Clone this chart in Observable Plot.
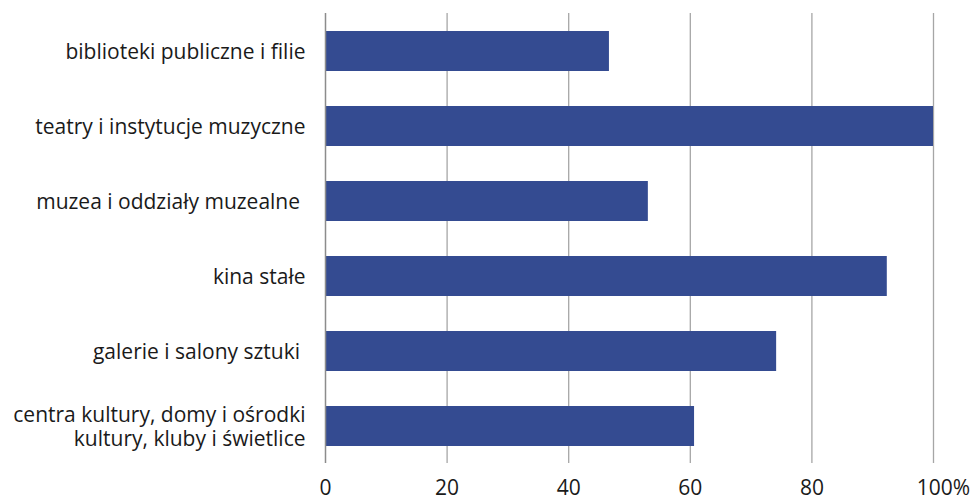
<!DOCTYPE html>
<html>
<head>
<meta charset="utf-8">
<script src="https://cdn.jsdelivr.net/npm/d3@7"></script>
<script src="https://cdn.jsdelivr.net/npm/@observablehq/plot@0.6"></script>
<style>
  html, body { margin: 0; padding: 0; background: #fff; }
  #chart svg { display: block; }
</style>
</head>
<body>
<div id="chart"></div>
<script>
const categories = [
  "biblioteki publiczne i filie",
  "teatry i instytucje muzyczne",
  "muzea i oddziały muzealne\u00a0",
  "kina stałe",
  "galerie i salony sztuki\u00a0",
  "centra kultury, domy i ośrodki\nkultury, kluby i świetlice"
];
const values = [46.7, 100, 53.1, 92.4, 74.2, 60.7];
const xTicks = [0, 20, 40, 60, 80, 100];

const data = categories.map((c, i) => ({category: c, value: values[i]}));
const FONT = "'Open Sans', 'Noto Sans', sans-serif";

const chart = Plot.plot({
  width: 970,
  height: 497,
  marginTop: 13,
  marginBottom: 34,
  marginLeft: 325,
  marginRight: 37,
  style: {fontFamily: FONT, fontSize: "21px", color: "#1a1a1a", background: "#fff"},
  x: {domain: [0, 100], label: null},
  y: {domain: categories, paddingInner: 0.47, paddingOuter: 0.235, label: null},
  marks: [
    Plot.ruleX(xTicks.filter(d => d > 0), {stroke: "#a6a6a6", strokeWidth: 1.3}),
    Plot.barX(data, {x: "value", y: "category", fill: "#344b91"}),
    Plot.ruleX([0], {stroke: "#8c8c8c", strokeWidth: 1.5}),
    Plot.axisX({ticks: xTicks.filter(d => d < 100), tickSize: 0, tickPadding: 17, tickFormat: d => String(d), fontSize: 21, fill: "#1a1a1a", label: null}),
    Plot.axisX({ticks: [100], tickSize: 0, tickPadding: 17, tickFormat: d => d + "%", dx: 10, fontSize: 21, fill: "#1a1a1a", label: null}),
    Plot.axisY({tickSize: 0, tickPadding: 20, fontSize: 21, fill: "#1a1a1a", lineHeight: 1.15, label: null})
  ]
});
document.getElementById("chart").append(chart);
</script>
</body>
</html>
